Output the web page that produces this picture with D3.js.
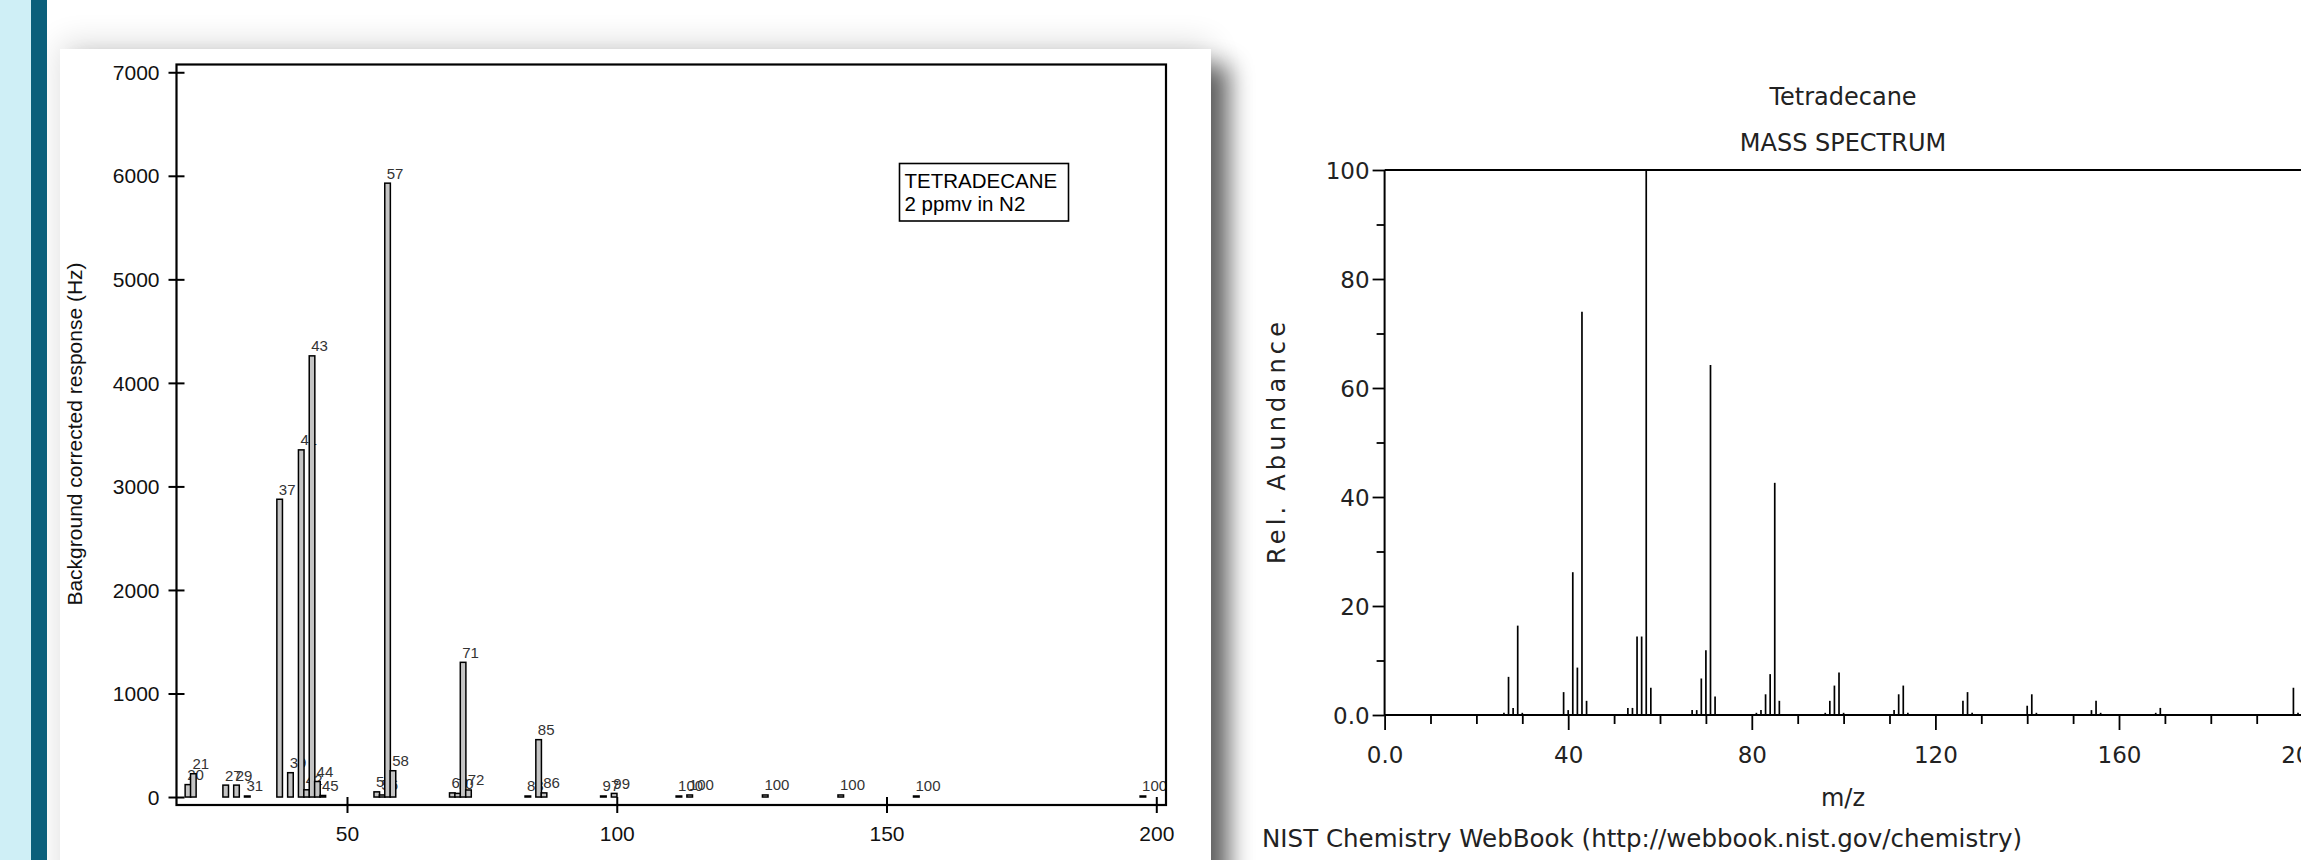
<!DOCTYPE html>
<html>
<head>
<meta charset="utf-8">
<script src="https://cdn.jsdelivr.net/npm/d3@7"></script>
<style>
  html, body { margin: 0; padding: 0; background: #ffffff; overflow: hidden; }
  svg { display: block; }
</style>
</head>
<body>
<svg id="chart" width="2301" height="860"></svg>
<script>
// ---------- Left chart data (Background corrected response, Hz) ----------
const leftMz     = [20, 21, 27, 29, 31, 37, 39, 41, 42, 43, 44, 45, 55, 56, 57, 58, 69, 70, 71, 72, 83, 85, 86, 97, 99, 111, 113, 127, 141, 155, 197];
const leftValues = [120, 225, 115, 115, 10, 2876, 235, 3353, 70, 4261, 150, 15, 50, 20, 5929, 254, 40, 35, 1301, 68, 10, 554, 40, 10, 35, 10, 20, 20, 20, 10, 10];
const leftLabels = ["20","21","27","29","31","37","39","41","42","43","44","45","55","56","57","58","69","70","71","72","83","85","86","97","99","100","100","100","100","100","100"];
const leftYTicks = [0, 1000, 2000, 3000, 4000, 5000, 6000, 7000];
const leftXTicks = [50, 100, 150, 200];
const leftLegend = ["TETRADECANE", "2 ppmv in N2"];
const leftYTitle = "Background corrected response (Hz)";

// ---------- Right chart data (NIST mass spectrum, relative abundance) ----------
const nistMz     = [26, 27, 28, 29, 30, 39, 40, 41, 42, 43, 44, 53, 54, 55, 56, 57, 58, 67, 68, 69, 70, 71, 72, 81, 82, 83, 84, 85, 86, 96, 97, 98, 99, 100, 111, 112, 113, 114, 126, 127, 128, 140, 141, 142, 154, 155, 156, 168, 169, 198, 199];
const nistValues = [0.4, 7.0, 1.3, 16.4, 0.4, 4.2, 0.9, 26.2, 8.7, 74.0, 2.6, 1.3, 1.3, 14.4, 14.4, 100, 5.0, 0.9, 0.9, 6.7, 11.9, 64.2, 3.4, 0.4, 0.9, 3.8, 7.5, 42.6, 2.6, 0.4, 2.6, 5.4, 7.8, 0.4, 0.9, 3.8, 5.4, 0.4, 2.6, 4.2, 0.4, 1.7, 3.8, 0.4, 0.9, 2.6, 0.4, 0.4, 1.3, 5.0, 0.4];
const nistYTicks = [0, 10, 20, 30, 40, 50, 60, 70, 80, 90, 100];
const nistXTicks = [0, 10, 20, 30, 40, 50, 60, 70, 80, 90, 100, 110, 120, 130, 140, 150, 160, 170, 180, 190, 200];
const nistTitle = ["Tetradecane", "MASS SPECTRUM"];
const nistXTitle = "m/z";
const nistYTitle = "Rel. Abundance";
const nistCaption = "NIST Chemistry WebBook (http://webbook.nist.gov/chemistry)";

const svg = d3.select("#chart");
const defs = svg.append("defs");

// ---------- page decoration ----------
svg.append("rect").attr("x", 0).attr("y", 0).attr("width", 2301).attr("height", 860).attr("fill", "#ffffff");
svg.append("rect").attr("x", 0).attr("y", 0).attr("width", 31).attr("height", 860).attr("fill", "#cfeff6");
svg.append("rect").attr("x", 31).attr("y", 0).attr("width", 16).attr("height", 860).attr("fill", "#0b5f7b");

const f = defs.append("filter").attr("id", "panelShadow")
  .attr("filterUnits", "userSpaceOnUse")
  .attr("x", 47).attr("y", -40).attr("width", 1300).attr("height", 1000);
f.append("feGaussianBlur").attr("in", "SourceAlpha").attr("stdDeviation", 12).attr("result", "b1");
f.append("feOffset").attr("in", "b1").attr("dx", 18).attr("dy", 16).attr("result", "o1");
f.append("feComponentTransfer").attr("in", "o1").attr("result", "s1")
  .append("feFuncA").attr("type", "linear").attr("slope", 0.6);
f.append("feGaussianBlur").attr("in", "SourceAlpha").attr("stdDeviation", 16).attr("result", "b2");
f.append("feOffset").attr("in", "b2").attr("dx", 0).attr("dy", -6).attr("result", "o2");
f.append("feComponentTransfer").attr("in", "o2").attr("result", "s2")
  .append("feFuncA").attr("type", "linear").attr("slope", 0.14);
const fm = f.append("feMerge");
fm.append("feMergeNode").attr("in", "s2");
fm.append("feMergeNode").attr("in", "s1");
fm.append("feMergeNode").attr("in", "SourceGraphic");

svg.append("rect")
  .attr("x", 60).attr("y", 49).attr("width", 1151).attr("height", 900)
  .attr("fill", "#ffffff").attr("filter", "url(#panelShadow)");

// ---------- Left chart ----------
const L = { left: 176.5, right: 1166, top: 64.5, bottom: 805 };
const lx = d3.scaleLinear().domain([18.4, 201.8]).range([L.left, L.right]);
const ly = d3.scaleLinear().domain([-77, 7075]).range([L.bottom, L.top]);
const lFont = "'Liberation Sans', Arial, sans-serif";

const left = svg.append("g");

// y axis
const lyAxis = left.append("g").attr("transform", `translate(${L.left},0)`)
  .call(d3.axisLeft(ly).tickValues(leftYTicks).tickSize(8).tickPadding(9).tickFormat(d3.format("d")));
lyAxis.select(".domain").remove();
lyAxis.selectAll(".tick line").attr("x1", 8).attr("stroke", "#000").attr("stroke-width", 2);
lyAxis.selectAll(".tick text").attr("font-family", lFont).attr("font-size", 21).attr("fill", "#111").attr("dy", "0.34em");

// x axis
const lxAxis = left.append("g").attr("transform", `translate(0,${L.bottom})`)
  .call(d3.axisBottom(lx).tickValues(leftXTicks).tickSize(8).tickPadding(13).tickFormat(d3.format("d")));
lxAxis.select(".domain").remove();
lxAxis.selectAll(".tick line").attr("y1", -8).attr("stroke", "#000").attr("stroke-width", 2);
lxAxis.selectAll(".tick text").attr("font-family", lFont).attr("font-size", 21).attr("fill", "#111");

// bars + labels, drawn in order so later bars overlap earlier labels
const barW = lx(19.05) - lx(18.4) + 5.0; // about 5.7 px
const lData = leftMz.map((m, i) => ({ mz: m, v: leftValues[i], lab: leftLabels[i] }));
const groups = left.append("g").selectAll("g").data(lData).join("g");
groups.append("rect")
  .attr("x", d => lx(d.mz))
  .attr("y", d => ly(d.v))
  .attr("width", 5.6)
  .attr("height", d => Math.max(0.5, ly(0) - ly(d.v)))
  .attr("fill", "#c4c4c4")
  .attr("stroke", "#000")
  .attr("stroke-width", 1.5);
groups.append("text")
  .attr("x", d => lx(d.mz) + 2)
  .attr("y", d => ly(d.v) - 4.5)
  .attr("font-family", lFont)
  .attr("font-size", 15)
  .attr("fill", "#333")
  .text(d => d.lab);

// frame
left.append("rect")
  .attr("x", L.left).attr("y", L.top)
  .attr("width", L.right - L.left).attr("height", L.bottom - L.top)
  .attr("fill", "none").attr("stroke", "#000").attr("stroke-width", 2.2);

// legend box
const lg = left.append("g");
lg.append("rect").attr("x", 899.5).attr("y", 163.5).attr("width", 169).attr("height", 57.5)
  .attr("fill", "#fff").attr("stroke", "#000").attr("stroke-width", 1.6);
lg.selectAll("text").data(leftLegend).join("text")
  .attr("x", 904.5).attr("y", (d, i) => 188 + i * 23)
  .attr("font-family", lFont).attr("font-size", 20.5).attr("fill", "#000")
  .text(d => d);

// y title
left.append("text")
  .attr("transform", "translate(82,434) rotate(-90)")
  .attr("text-anchor", "middle")
  .attr("font-family", lFont).attr("font-size", 21).attr("fill", "#111")
  .text(leftYTitle);

// ---------- Right chart (NIST) ----------
const R = { left: 1384.6, top: 170, bottom: 715 };
const rx = d3.scaleLinear().domain([0, 200]).range([R.left, R.left + 200 * 4.59]);
const ry = d3.scaleLinear().domain([0, 100]).range([R.bottom, R.top]);
const rFont = "'DejaVu Sans', Verdana, sans-serif";
const right = svg.append("g");

const ryAxis = right.append("g").attr("transform", `translate(${R.left},0)`)
  .call(d3.axisLeft(ry).tickValues(nistYTicks).tickSize(12).tickPadding(3)
    .tickFormat(d => d === 0 ? "0.0" : (d % 20 === 0 ? d3.format("d")(d) : "")));
ryAxis.select(".domain").remove();
ryAxis.selectAll(".tick line")
  .attr("x2", d => d % 20 === 0 ? -12 : -8)
  .attr("stroke", "#000").attr("stroke-width", 1.8);
ryAxis.selectAll(".tick text").attr("font-family", rFont).attr("font-size", 23).attr("fill", "#222").attr("dy", "0.36em");

const rxAxis = right.append("g").attr("transform", `translate(0,${R.bottom})`)
  .call(d3.axisBottom(rx).tickValues(nistXTicks).tickSize(14).tickPadding(18)
    .tickFormat(d => d === 0 ? "0.0" : (d % 40 === 0 ? d3.format("d")(d) : "")));
rxAxis.select(".domain").remove();
rxAxis.selectAll(".tick line")
  .attr("y2", d => d % 40 === 0 ? 15 : 9)
  .attr("stroke", "#000").attr("stroke-width", 1.8);
rxAxis.selectAll(".tick text").attr("font-family", rFont).attr("font-size", 23).attr("fill", "#222");

// frame lines (left, top, bottom)
right.append("line").attr("x1", R.left).attr("x2", R.left).attr("y1", R.top).attr("y2", R.bottom)
  .attr("stroke", "#000").attr("stroke-width", 2);
right.append("line").attr("x1", R.left).attr("x2", 2320).attr("y1", R.top).attr("y2", R.top)
  .attr("stroke", "#000").attr("stroke-width", 2);
right.append("line").attr("x1", R.left).attr("x2", 2320).attr("y1", R.bottom).attr("y2", R.bottom)
  .attr("stroke", "#000").attr("stroke-width", 2.2);

// peaks
right.append("g").selectAll("line")
  .data(nistMz.map((m, i) => ({ mz: m, v: nistValues[i] })))
  .join("line")
  .attr("x1", d => rx(d.mz)).attr("x2", d => rx(d.mz))
  .attr("y1", ry(0)).attr("y2", d => ry(d.v))
  .attr("stroke", "#000").attr("stroke-width", 1.7);

// titles
right.selectAll("text.ttl").data(nistTitle).join("text").attr("class", "ttl")
  .attr("x", 1843).attr("y", (d, i) => 104.5 + i * 46.5)
  .attr("text-anchor", "middle")
  .attr("font-family", rFont).attr("font-size", 24).attr("fill", "#222")
  .text(d => d);

right.append("text")
  .attr("x", 1843).attr("y", 806)
  .attr("text-anchor", "middle")
  .attr("font-family", rFont).attr("font-size", 24).attr("fill", "#222")
  .text(nistXTitle);

right.append("text")
  .attr("transform", "translate(1285,443) rotate(-90)")
  .attr("text-anchor", "middle")
  .attr("textLength", 242).attr("lengthAdjust", "spacing")
  .attr("font-family", rFont).attr("font-size", 24).attr("fill", "#222")
  .text(nistYTitle);

right.append("text")
  .attr("x", 1262).attr("y", 847)
  .attr("textLength", 760).attr("lengthAdjust", "spacingAndGlyphs")
  .attr("font-family", rFont).attr("font-size", 24.5).attr("fill", "#222")
  .text(nistCaption);
</script>
</body>
</html>
